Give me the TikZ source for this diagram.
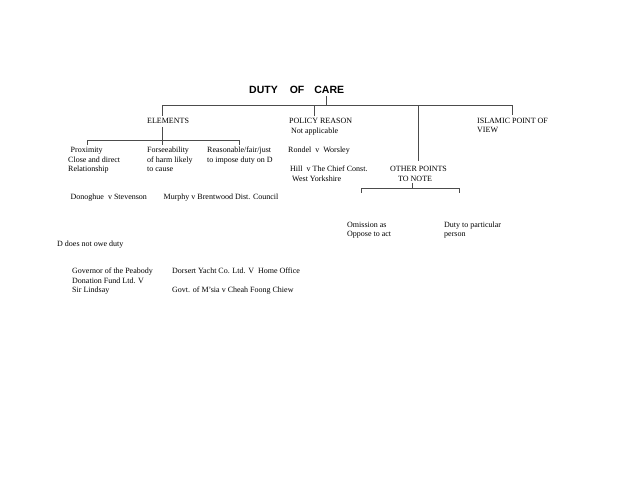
\documentclass[tikz,border=0pt]{standalone}
\usepackage{fontspec}
\setmainfont{Liberation Serif}
\newfontfamily\headfont{Liberation Sans}
\tikzset{
  txt/.style={anchor=base west, inner sep=0pt, align=left, font=\fontsize{8}{9.5}\selectfont},
  head/.style={anchor=base west, inner sep=0pt, font=\headfont\bfseries\fontsize{10.5}{12}\selectfont},
  wire/.style={draw=black!70, line width=0.7pt},
}
\begin{document}
\begin{tikzpicture}[x=1pt, y=-1pt]
\useasboundingbox (0,0) rectangle (640,495);

\node[head] (title) at(249, 93.5) {DUTY\hspace{12pt}OF\hspace{10pt}CARE};

\node[txt] (elements)   at(147, 123.7) {ELEMENTS};
\node[txt] (policy)     at(289, 133.2) {POLICY REASON\\\hspace*{2pt}Not applicable};
\node[txt] (islamic)    at(477, 132.7) {ISLAMIC POINT OF\\VIEW};

\node[txt] (proximity)  at( 68, 171.7) {\hspace*{2.5pt}Proximity\\Close and direct\\Relationship};
\node[txt] (foresee)    at(147, 171.7) {Forseeability\\of harm likely\\to cause};
\node[txt] (reasonable) at(207, 162.2) {Reasonable/fair/just\\to impose duty on D};
\node[txt] (rondel)     at(288, 152.7) {Rondel\ \ v\ \ Worsley};
\node[txt] (hill)       at(290, 181.2) {Hill\ \ v The Chief Const.\\\hspace*{2pt}West Yorkshire};
\node[txt] (other)      at(390, 181.2) {OTHER POINTS\\\hspace*{8pt}TO NOTE};

\node[txt] (donoghue)   at( 70.5, 199.7) {Donoghue\ \ v Stevenson};
\node[txt] (murphy)     at(163.5, 199.7) {Murphy v Brentwood Dist. Council};
\node[txt] (omission)   at(347, 236.7) {Omission as\\Oppose to act};
\node[txt] (particular) at(444, 236.7) {Duty to particular\\person};
\node[txt] (noduty)     at( 57, 246) {D does not owe duty};

\node[txt] (peabody)    at( 72, 292.7) {Governor of the Peabody\\Donation Fund Ltd. V\\Sir Lindsay};
\node[txt] (dorset)     at(172, 273.7) {Dorsert Yacht Co. Ltd. V\ \ Home Office};
\node[txt] (govt)       at(172, 292.7) {Govt. of M’sia v Cheah Foong Chiew};

\coordinate (care) at(326, 105);
\coordinate (bE)   at(162, 105);
\coordinate (bP)   at(314, 105);
\coordinate (bO)   at(418.5, 105);
\coordinate (bI)   at(512, 105);

\draw[wire] (bE) -- (bI);
\draw[wire, shorten <=2pt] (title.south -| care) -- (care);
\draw[wire, shorten >=2.5pt] (bE) -- (bE |- elements.north);
\draw[wire, shorten >=2.5pt] (bP) -- (bP |- policy.north);
\draw[wire, shorten >=3pt] (bI) -- (bI |- islamic.north);
\draw[wire, shorten >=5pt] (bO) -- (bO |- other.north);

\coordinate (eL) at( 87, 140.5);
\coordinate (eR) at(239, 140.5);

\draw[wire, shorten <=3pt, shorten >=2pt] (elements.south -| bE) -- (foresee.north -| bE);
\draw[wire, shorten <=2pt, shorten >=2pt] (proximity.north -| eL) -- (eL) -- (eR) -- (reasonable.north -| eR);

\coordinate (oL) at(361, 188.3);
\coordinate (oR) at(459.3, 188.3);
\coordinate (oT) at(412.7, 188.3);

\draw[wire] (oL) ++(0,4.2) -- (oL) -- (oR) -- ++(0,4.2);
\draw[wire, shorten <=1.3pt] (other.south -| oT) -- (oT);

\end{tikzpicture}
\end{document}
